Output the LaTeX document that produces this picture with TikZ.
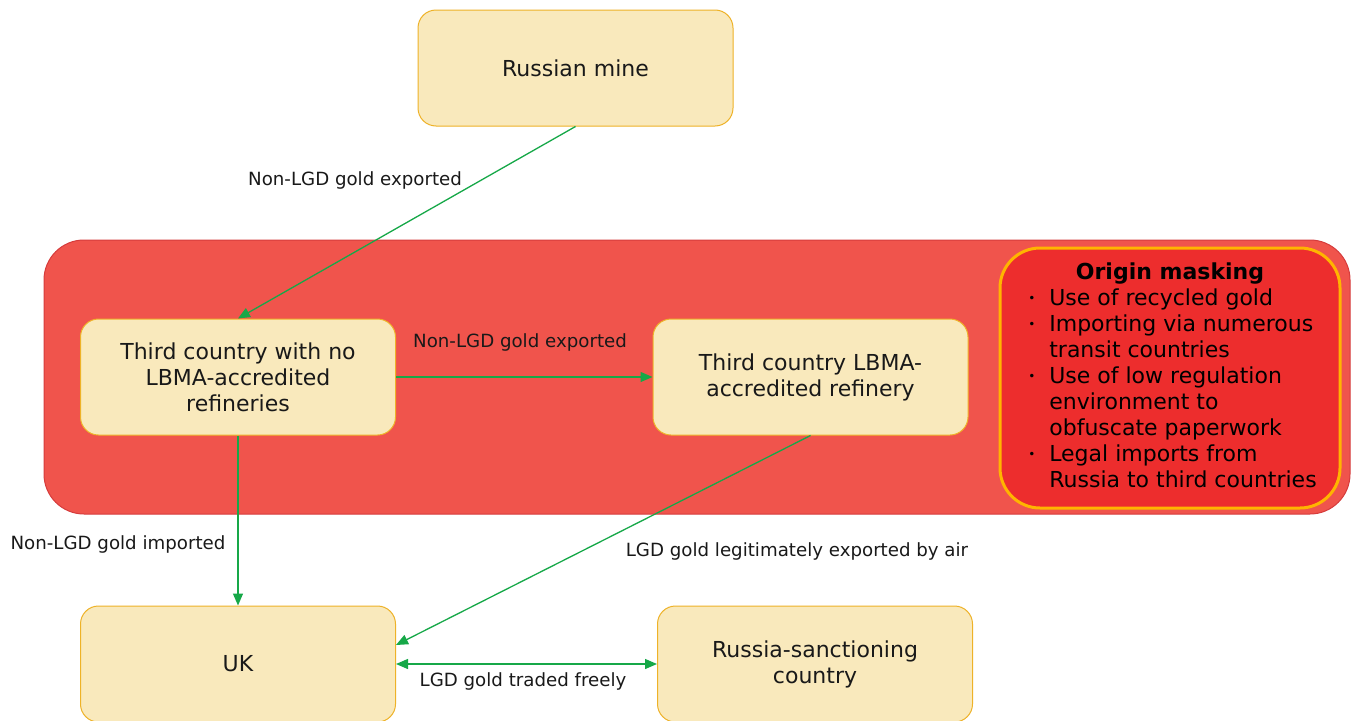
\documentclass[tikz,border=0pt]{standalone}
\usepackage{fontspec}
\setmainfont{DejaVu Sans}
\usetikzlibrary{arrows.meta}
\definecolor{boxfill}{RGB}{249,233,188}
\definecolor{boxline}{RGB}{238,178,40}
\definecolor{zonefill}{RGB}{240,84,76}
\definecolor{zoneline}{RGB}{214,60,60}
\definecolor{maskfill}{RGB}{237,45,45}
\definecolor{maskline}{RGB}{255,180,0}
\definecolor{flow}{RGB}{22,168,72}
\definecolor{ink}{RGB}{25,25,25}
\newcommand{\blt}{\makebox[26pt][l]{\hspace{5pt}\raisebox{3pt}{\fontsize{12}{12}\selectfont •}}}
\begin{document}
\begin{tikzpicture}[x=1pt,y=-1pt,
  stepbox/.style={draw=boxline, fill=boxfill, rounded corners=18pt, minimum width=315pt,
    minimum height=116pt, align=center, font=\fontsize{22}{26}\selectfont, line width=1pt,
    inner sep=0pt, text=ink},
  zonebox/.style={draw=zoneline, fill=zonefill, rounded corners=40pt, line width=1pt},
  maskbox/.style={draw=maskline, fill=maskfill, rounded corners=40pt, line width=3pt,
    inner sep=0pt, text=black, font=\fontsize{22}{26}\selectfont},
  flowlabel/.style={font=\fontsize{18.2}{22}\selectfont, inner sep=0pt, text=ink},
  flowarrow/.style={draw=flow, line width=1.3pt, -{Triangle[length=12pt,width=10pt]}},
  flowboth/.style={draw=flow, line width=1.3pt, {Triangle[length=12pt,width=10pt]}-{Triangle[length=12pt,width=10pt]}}
]
\useasboundingbox (0,0) rectangle (1354,720);
\fill[white] (0,0) rectangle (1354,720);

% red zone
\node[zonebox, minimum width=1306pt, minimum height=274pt] (zone) at (697,377) {};

% origin masking
\node[maskbox, minimum width=340pt, minimum height=260pt] (mask) at (1170,378) {%
\begin{tabular}{@{}l@{}l@{}}
\multicolumn{2}{c}{\bfseries Origin masking}\\
\blt & Use of recycled gold\\
\blt & Importing via numerous\\
 & transit countries\\
\blt & Use of low regulation\\
 & environment to\\
 & obfuscate paperwork\\
\blt & Legal imports from\\
 & Russia to third countries
\end{tabular}};

% boxes
\node[stepbox] (mine) at (575.5,68) {Russian mine};
\node[stepbox] (tnone) at (238,377) {Third country with no\\LBMA-accredited\\refineries};
\node[stepbox] (tlbma) at (810.5,377) {Third country LBMA-\\accredited refinery};
\node[stepbox] (uk) at (238,664) {UK};
\node[stepbox] (rsc) at (815,664) {Russia-sanctioning\\country};

\coordinate (ukin) at ([yshift=19pt]uk.east);

% connectors
\draw[flowarrow] (mine.south) -- (tnone.north);
\draw[flowarrow] (tnone.east) -- (tlbma.west);
\draw[flowarrow] (tnone.south) -- (uk.north);
\draw[flowarrow] (tlbma.south) -- (ukin);
\draw[flowboth] (uk.east) -- (rsc.west);

% labels
\node[flowlabel] (l1) at (355,180) {Non-LGD gold exported};
\node[flowlabel] (l2) at (520,342) {Non-LGD gold exported};
\node[flowlabel] (l3) at (118,544) {Non-LGD gold imported};
\node[flowlabel] (l4) at (797,551) {LGD gold legitimately exported by air};
\node[flowlabel] (l5) at (523,681) {LGD gold traded freely};
\end{tikzpicture}
\end{document}
